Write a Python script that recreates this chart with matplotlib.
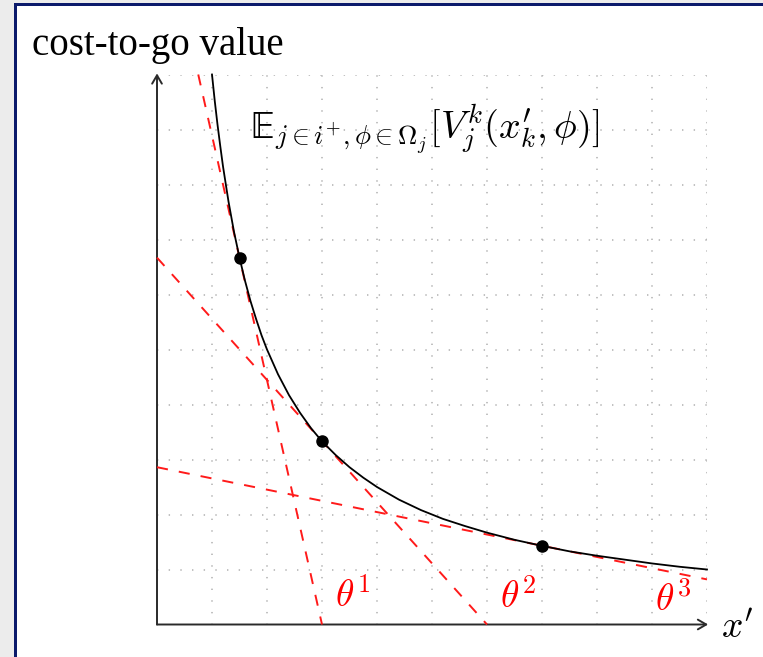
import matplotlib
matplotlib.use('Agg')
import matplotlib.pyplot as plt
from matplotlib.patches import Rectangle

plt.rcParams['mathtext.fontset'] = 'cm'
plt.rcParams['lines.scale_dashes'] = False

# Value function
curve_x = [1.0, 1.05, 1.1, 1.15, 1.2, 1.3, 1.4, 1.5, 1.6, 1.7, 1.8, 1.9, 2.0, 2.2, 2.4,
           2.6, 2.8, 3.0, 3.25, 3.5, 3.75, 4.0, 4.4, 4.8, 5.2, 5.6, 6.0, 6.5, 7.0,
           7.5, 8.0, 8.5, 9.0, 9.5, 10.0]
curve_y = [10.0, 9.52, 9.09, 8.70, 8.33, 7.69, 7.14, 6.67, 6.25, 5.88, 5.56, 5.26, 5.0,
           4.55, 4.17, 3.85, 3.57, 3.33, 3.08, 2.86, 2.67, 2.5, 2.27, 2.08, 1.92, 1.79,
           1.67, 1.54, 1.43, 1.33, 1.25, 1.18, 1.11, 1.05, 1.0]

# Tangent (cut) points
point_x = [1.5, 3.0, 7.0]
point_y = [6.67, 3.33, 1.43]

# Tangent line end points
cut_labels = [r'$\theta^1$', r'$\theta^2$', r'$\theta^3$']
cut_x0 = [0.75, 0.0, 0.0]
cut_y0 = [10.0, 6.67, 2.86]
cut_x1 = [3.0, 6.0, 10.0]
cut_y1 = [0.0, 0.0, 0.82]
label_x = [3.24, 6.24, 9.05]
label_y = [0.32, 0.30, 0.25]

W, H = 763, 657
fig = plt.figure(figsize=(W / 100, H / 100), dpi=100)

# page frame (grey outside, navy border)
fig.add_artist(Rectangle((0, 0), 14 / W, 1, transform=fig.transFigure, color='#ececec', lw=0))
fig.add_artist(Rectangle((0, 1 - 3 / H), 1, 3 / H, transform=fig.transFigure, color='#ececec', lw=0))
fig.add_artist(Rectangle((14 / W, 0), 3 / W, 1 - 3 / H, transform=fig.transFigure, color='#0b1a6b', lw=0))
fig.add_artist(Rectangle((14 / W, 1 - 6 / H), 1 - 14 / W, 3 / H, transform=fig.transFigure, color='#0b1a6b', lw=0))

ax = fig.add_axes([157 / W, 1 - 624.5 / H, 550 / W, 550 / H])
ax.set_xlim(0, 10)
ax.set_ylim(0, 10)
for s in ax.spines.values():
    s.set_visible(False)
ax.set_xticks(range(11))
ax.set_yticks(range(11))
ax.tick_params(length=0, labelbottom=False, labelleft=False)
ax.grid(True, color='#b0b0b0', linewidth=1.1, linestyle=(0, (1.0, 7.4)))
ax.set_axisbelow(True)

# axes with arrows
arrow = dict(arrowstyle='->,head_length=0.6,head_width=0.35', color='#2a2a2a',
             lw=1.4, mutation_scale=10, shrinkA=0, shrinkB=0)
ax.annotate('', xy=(10.02, 0), xytext=(0, 0), arrowprops=arrow, annotation_clip=False)
ax.annotate('', xy=(0, 10.02), xytext=(0, 0), arrowprops=arrow, annotation_clip=False)

for i in range(3):
    ax.plot([cut_x0[i], cut_x1[i]], [cut_y0[i], cut_y1[i]], color='#ff1a1a',
            lw=1.4, dashes=(8, 8), clip_on=False, zorder=3)
    ax.text(label_x[i], label_y[i], cut_labels[i], color='#ff0000', fontsize=27,
            ha='left', va='baseline')

ax.plot(curve_x, curve_y, color='black', lw=1.3, clip_on=False, zorder=4)
ax.plot(point_x, point_y, 'o', color='black', markersize=8, clip_on=False, zorder=5)

ax.text(1.69, 8.83, r"$\mathrm{\mathbb{E}}_{j\in i^{+},\phi\in\Omega_j}[V_j^k(x_k',\phi)]$",
        fontsize=27.5, ha='left', va='baseline')
ax.text(10.25, -0.25, r"$x'$", fontsize=27, ha='left', va='baseline')

fig.text(32 / W, 1 - 55 / H, 'cost-to-go value', family='Liberation Serif',
         fontsize=28, ha='left', va='baseline')

fig.savefig('out.png', dpi=100)
